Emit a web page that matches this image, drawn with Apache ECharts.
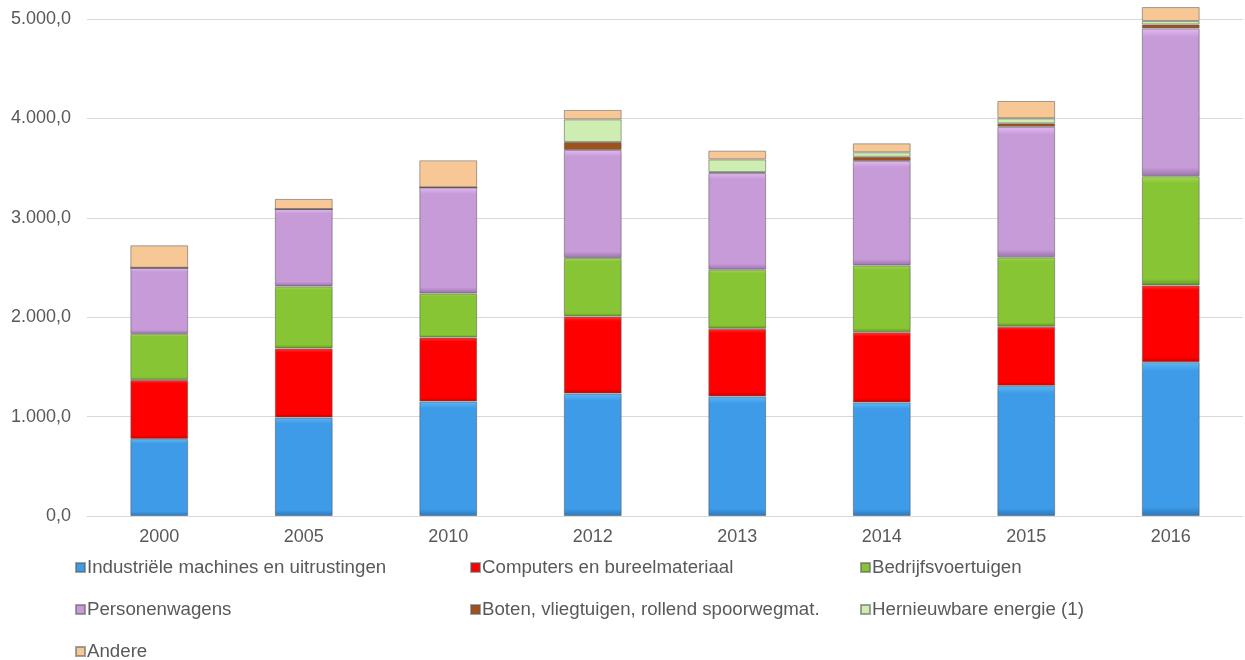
<!DOCTYPE html>
<html>
<head>
<meta charset="utf-8">
<script src="https://cdn.jsdelivr.net/npm/echarts@6/dist/echarts.min.js"></script>
<style>
  html, body { margin: 0; padding: 0; background: #fff; }
  #chart { width: 1245px; height: 660px; }
</style>
</head>
<body>
<div id="chart"></div>
<script>
// jaren op de x-as
var jaren = ['2000', '2005', '2010', '2012', '2013', '2014', '2015', '2016'];

// waarden per categorie
var industrie = [775, 990, 1152, 1232, 1203, 1143, 1310, 1548];
var computers = [593, 695, 643, 774, 681, 705, 595, 772];
var bedrijfsvoertuigen = [464, 625, 443, 590, 594, 672, 697, 1098];
var personenwagens = [665, 778, 1067, 1086, 972, 1052, 1313, 1487];
var boten = [0, 0, 0, 80, 10, 42, 35, 40];
var hernieuwbaar = [0, 0, 0, 228, 127, 45, 50, 35];
var andere = [226, 102, 273, 95, 88, 90, 175, 140];

var yTicks = [0, 1000, 2000, 3000, 4000, 5000];

function fmt(v) {
  // 5000 -> 5.000,0
  var s = Math.round(v).toString().replace(/\B(?=(\d{3})+(?!\d))/g, '.');
  return s + ',0';
}

// lichte bevel: lichter boven, donkerder onder
function bevel(light, base, dark) {
  return new echarts.graphic.LinearGradient(0, 0, 0, 1, [
    { offset: 0, color: light },
    { offset: 0.06, color: base },
    { offset: 0.94, color: base },
    { offset: 1, color: dark }
  ]);
}

var reeksen = [
  { name: 'Industriële machines en uitrustingen', data: industrie, c: ['#5cb8f5', '#3d9be8', '#2a78bd'] },
  { name: 'Computers en bureelmateriaal', data: computers, c: ['#ff3a3a', '#fe0000', '#c40000'] },
  { name: 'Bedrijfsvoertuigen', data: bedrijfsvoertuigen, c: ['#a2dc52', '#87c535', '#5f9424'] },
  { name: 'Personenwagens', data: personenwagens, c: ['#e4b8f2', '#c79bd8', '#9a72aa'] },
  { name: 'Boten, vliegtuigen, rollend spoorwegmat.', data: boten, c: ['#c06a2a', '#a0521c', '#7a3c12'] },
  { name: 'Hernieuwbare energie (1)', data: hernieuwbaar, c: ['#e8fbd6', '#cdeeb0', '#9cbf80'] },
  { name: 'Andere', data: andere, c: ['#ffe0b8', '#f7c895', '#c89a6c'] }
];

// legenda: [reeks-index, links, boven]
var legendPos = [
  [0, 75, 558], [1, 470, 558], [2, 860, 558],
  [3, 75, 600], [4, 470, 600], [5, 860, 600],
  [6, 75, 642]
];

var chart = echarts.init(document.getElementById('chart'));

var legendText = { fontFamily: 'Liberation Sans, Arial, sans-serif', fontSize: 18.7, color: '#595959', padding: [0, 0, 0, -3] };

chart.setOption({
  animation: false,
  textStyle: { fontFamily: 'Liberation Sans, Arial, sans-serif' },
  grid: { left: 87, right: 2, top: 19, bottom: 144 },
  legend: legendPos.map(function (p) {
    return {
      left: p[1],
      top: p[2],
      padding: 0,
      itemWidth: 9,
      itemHeight: 9,
      icon: 'rect',
      selectedMode: false,
      textStyle: legendText,
      data: [reeksen[p[0]].name]
    };
  }),
  xAxis: {
    type: 'category',
    data: jaren,
    axisLine: { lineStyle: { color: '#d9d9d9', width: 1 } },
    axisTick: { show: false },
    axisLabel: { color: '#595959', fontSize: 18, margin: 12 }
  },
  yAxis: {
    type: 'value',
    min: yTicks[0],
    max: yTicks[yTicks.length - 1],
    interval: 1000,
    axisLine: { show: false },
    axisTick: { show: false },
    splitLine: { lineStyle: { color: '#d9d9d9', width: 1 } },
    axisLabel: { color: '#595959', fontSize: 18, margin: 16, formatter: fmt }
  },
  series: reeksen.map(function (r) {
    return {
      name: r.name,
      type: 'bar',
      stack: 'totaal',
      barWidth: '40%',
      clip: false,
      data: r.data,
      itemStyle: {
        color: bevel(r.c[0], r.c[1], r.c[2]),
        borderColor: 'rgba(90,90,90,0.55)',
        borderWidth: 1
      }
    };
  })
});
</script>
</body>
</html>
